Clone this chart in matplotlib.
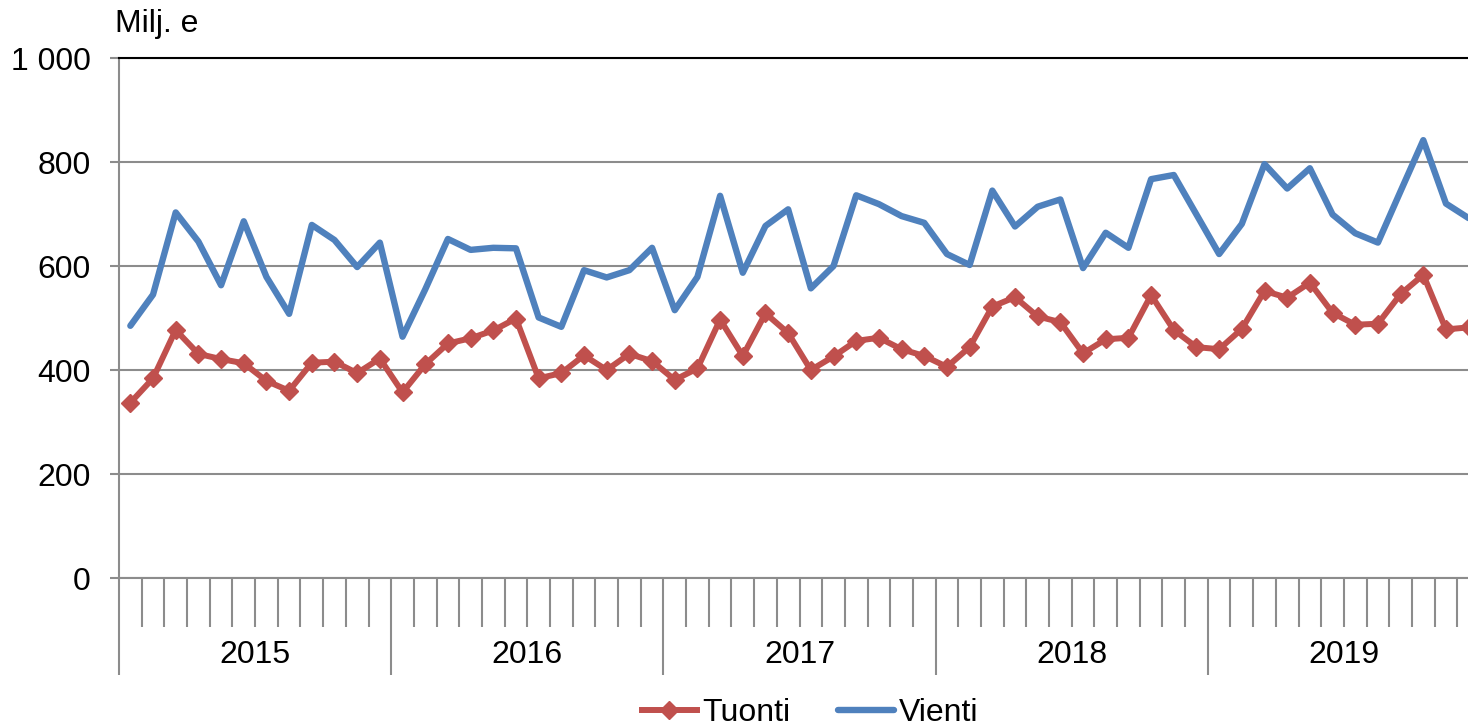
import matplotlib
matplotlib.use("Agg")
import matplotlib.pyplot as plt
from matplotlib.ticker import FixedLocator, FuncFormatter

plt.rcParams['font.family'] = ['Liberation Sans', 'DejaVu Sans']

# monthly values, Jan 2015 .. Dec 2019 (milj. e)
years = ['2015', '2016', '2017', '2018', '2019']
vienti = [485, 545, 703, 647, 563, 686, 579, 508, 679, 650, 598, 645,
          464, 555, 652, 631, 635, 634, 501, 483, 592, 578, 592, 635,
          515, 579, 735, 587, 677, 709, 557, 600, 736, 719, 696, 683,
          623, 602, 745, 676, 714, 728, 596, 664, 635, 767, 775, 699,
          623, 681, 796, 749, 788, 699, 663, 645, 744, 842, 720, 692]
tuonti = [337, 384, 477, 431, 421, 413, 379, 360, 414, 416, 394, 422,
          357, 411, 451, 461, 476, 499, 384, 394, 428, 400, 431, 417,
          381, 403, 497, 427, 509, 471, 400, 426, 456, 462, 440, 427,
          406, 444, 522, 540, 503, 492, 432, 459, 462, 544, 477, 444,
          440, 479, 552, 539, 568, 510, 487, 489, 546, 583, 478, 482]
y_ticks = [0, 200, 400, 600, 800, 1000]

RED = '#C0504D'
BLUE = '#4F81BD'
GRID = '#8C8C8C'
FS = 23

W, H = 1468, 728
fig = plt.figure(figsize=(W / 100, H / 100), dpi=100)
# axes runs a bit past the right edge, like the cropped original
ax = fig.add_axes([119 / W, 1 - 578 / H, 1361 / W, 520 / H])

n = len(vienti)
x = [i + 0.5 for i in range(n)]
ax.plot(x, tuonti, color=RED, lw=4.3, marker='D', ms=9,
        solid_joinstyle='round', label='Tuonti', clip_on=False, zorder=3)
ax.plot(x, vienti, color=BLUE, lw=4.6, solid_joinstyle='round',
        solid_capstyle='round', label='Vienti', zorder=4)

ax.set_xlim(0, n)
ax.set_ylim(0, 1000)

# y axis
ax.yaxis.set_major_locator(FixedLocator(y_ticks))
ax.yaxis.set_major_formatter(FuncFormatter(lambda v, p: f'{int(v):,}'.replace(',', ' ')))
ax.tick_params(axis='y', direction='out', length=6.5, width=1.5, color=GRID,
               pad=14, labelsize=FS)
ax.yaxis.grid(True, color=GRID, lw=1.5)
ax.set_axisbelow(True)

# x axis: month ticks and longer year ticks
ax.xaxis.set_major_locator(FixedLocator(range(0, n + 1, 12)))
ax.xaxis.set_minor_locator(FixedLocator(range(0, n + 1)))
ax.tick_params(axis='x', which='major', direction='out', length=70, width=1.5,
               color=GRID, labelbottom=False)
ax.tick_params(axis='x', which='minor', direction='out', length=35, width=1.5,
               color=GRID, labelbottom=False)
for i, yr in enumerate(years):
    ax.text(12 * i + 6, -0.148, yr, transform=ax.get_xaxis_transform(),
            ha='center', va='center', fontsize=FS)

for side in ('left', 'bottom'):
    ax.spines[side].set_color(GRID)
    ax.spines[side].set_linewidth(1.5)
ax.spines['right'].set_visible(False)
ax.spines['top'].set_color('black')
ax.spines['top'].set_linewidth(1.5)

fig.text(115 / W, 1 - 24 / H, 'Milj. e', fontsize=FS, va='center', ha='left')

fig.legend(loc='center', bbox_to_anchor=(810 / W, 1 - 713 / H), ncol=2,
           frameon=False, fontsize=FS, handlelength=1.75, handletextpad=0.15,
           columnspacing=1.5, borderpad=0, borderaxespad=0)

fig.savefig('out.png', dpi=100)
